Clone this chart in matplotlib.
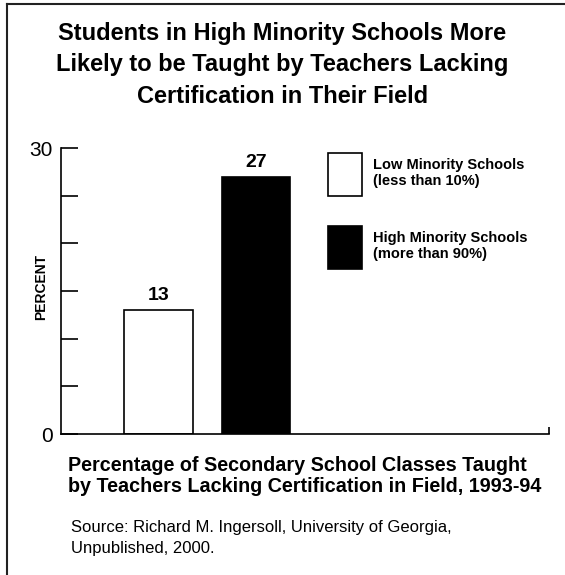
import matplotlib

matplotlib.use("Agg")
import matplotlib.pyplot as plt
from matplotlib.lines import Line2D
from matplotlib.patches import Patch

plt.rcParams["font.family"] = ["Liberation Sans", "DejaVu Sans"]

# data
groups = ["Low Minority Schools\n(less than 10%)", "High Minority Schools\n(more than 90%)"]
percent = [13, 27]
bar_colors = ["white", "black"]
positions = [1, 2]
y_ticks = [0, 5, 10, 15, 20, 25, 30]
y_tick_labels = ["0", "", "", "", "", "", "30"]

title = ("Students in High Minority Schools More\n"
         "Likely to be Taught by Teachers Lacking\n"
         "Certification in Their Field")
caption = ("Percentage of Secondary School Classes Taught\n"
           "by Teachers Lacking Certification in Field, 1993-94")
source = "Source: Richard M. Ingersoll, University of Georgia,\nUnpublished, 2000."

W, H = 565, 575
fig = plt.figure(figsize=(W / 100, H / 100), dpi=100)
ax = fig.add_axes([61 / W, 1 - 434 / H, 488 / W, 286 / H])

ax.bar(positions, percent, width=0.7, color=bar_colors, edgecolor="black", linewidth=1.2)
for x, v in zip(positions, percent):
    ax.text(x, v + 0.6, f"{v}", ha="center", va="bottom", fontsize=14, fontweight="bold")

ax.set_xlim(0, 5)
ax.set_ylim(0, 30)
ax.set_yticks(y_ticks)
ax.set_yticklabels(y_tick_labels)
ax.tick_params(axis="y", direction="in", length=12, width=1.2, labelsize=15, pad=6)
ax.set_xticks([5])
ax.tick_params(axis="x", direction="in", length=5, width=1.2, labelbottom=False)
for side in ("top", "right"):
    ax.spines[side].set_visible(False)
for side in ("left", "bottom"):
    ax.spines[side].set_linewidth(1.2)

fig.text(41 / W, 1 - 287 / H, "PERCENT", rotation=90, ha="center", va="center",
         fontsize=10, fontweight="bold")

handles = [Patch(facecolor=c, edgecolor="black", linewidth=1.2) for c in bar_colors]
fig.legend(handles, groups, loc="upper left", bbox_to_anchor=(328 / W, 1 - 153 / H),
           frameon=False, borderpad=0, borderaxespad=0, handlelength=2.33, handleheight=4.15,
           handletextpad=0.75, labelspacing=2.05, prop={"size": 10.5, "weight": "bold"})

fig.text(0.5, 1 - 65 / H, title, ha="center", va="center", fontsize=17,
         fontweight="bold", linespacing=1.45)
fig.text(68 / W, 1 - 476 / H, caption, ha="left", va="center", fontsize=14.2,
         fontweight="bold", linespacing=1.18)
fig.text(71 / W, 1 - 538 / H, source, ha="left", va="center", fontsize=12, linespacing=1.5)

# page frame: left and top rules
fig.add_artist(Line2D([7 / W, 7 / W], [0, 1 - 4 / H], color="#222222", linewidth=1.5))
fig.add_artist(Line2D([7 / W, 1], [1 - 4 / H, 1 - 4 / H], color="#222222", linewidth=1.5))

fig.savefig("out.png", dpi=100)
